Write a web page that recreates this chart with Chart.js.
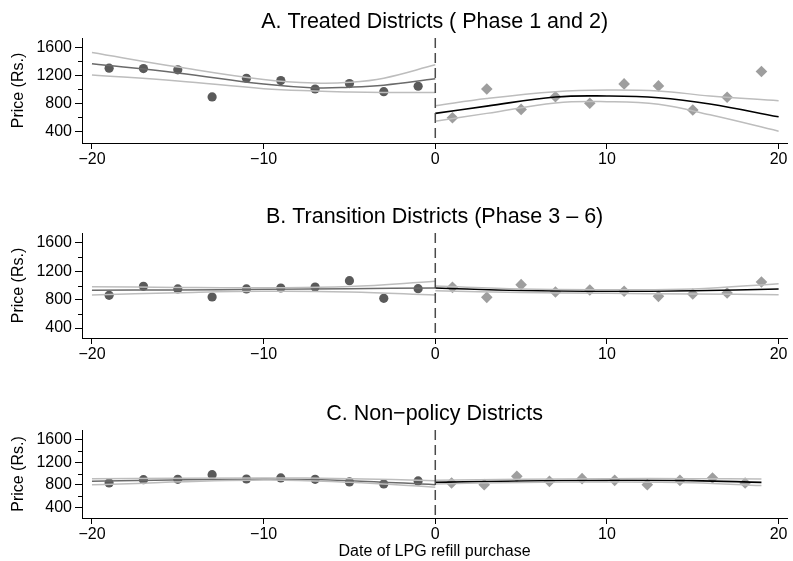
<!DOCTYPE html>
<html>
<head>
<meta charset="utf-8">
<script src="https://cdn.jsdelivr.net/npm/chart.js@4.4.1/dist/chart.umd.min.js"></script>
<style>
  body { margin: 0; background: #fff; }
  #wrap { position: relative; width: 793px; height: 561px; }
  canvas { position: absolute; left: 0; }
</style>
</head>
<body>
<div id="wrap">
  <canvas id="panelA" width="793" height="190" style="top:0px"></canvas>
  <canvas id="panelB" width="793" height="180" style="top:190px"></canvas>
  <canvas id="panelC" width="793" height="191" style="top:370px"></canvas>
</div>
<script>
// Días antes / después de la fecha de cambio
const leftX = [-19, -17, -15, -13, -11, -9, -7, -5, -3, -1];
const rightX = [1, 3, 5, 7, 9, 11, 13, 15, 17, 19];
const rightXC = [0.95, 2.85, 4.75, 6.65, 8.55, 10.45, 12.35, 14.25, 16.15, 18.05];

// Precios medios (Rs.)
const aLeft = [1303, 1298, 1279, 891, 1159, 1125, 1005, 1082, 967, 1044];
const aRight = [593, 1006, 713, 895, 800, 1078, 1049, 704, 886, 1255];
const bLeft = [861, 988, 951, 838, 951, 965, 979, 1068, 819, 955];
const bRight = [974, 833, 1012, 908, 937, 918, 847, 880, 894, 1050];
const cLeft = [835, 894, 900, 982, 906, 924, 900, 853, 818, 871];
const cRight = [835, 805, 953, 864, 912, 882, 805, 882, 924, 835];

// Curvas ajustadas e intervalos
const aFitLX = [-20, -15, -10, -7, -5, -3, 0];
const aFitL = [1365, 1235, 1075, 1020, 1030, 1060, 1150];
const aHiL = [1528, 1320, 1140, 1090, 1100, 1160, 1351];
const aLoL = [1207, 1120, 1010, 975, 962, 956, 955];
const aFitRX = [0, 3, 7, 10, 13, 16, 20];
const aFitR = [656, 760, 890, 905, 880, 790, 607];
const aHiR = [766, 870, 967, 991, 977, 905, 837];
const aLoR = [545, 656, 805, 823, 785, 635, 401];

const bFitLX = [-20, -15, -10, -5, 0];
const bFitL = [932, 938, 946, 955, 965];
const bHiL = [984, 972, 968, 985, 1059];
const bLoL = [866, 897, 918, 909, 866];
const bFitRX = [0, 5, 10, 15, 20];
const bFitR = [965, 930, 918, 925, 951];
const bHiR = [993, 950, 941, 951, 1026];
const bLoR = [927, 900, 889, 880, 871];

const cFitLX = [-20, -10, -5, 0];
const cFitL = [864, 906, 876, 805];
const cHiL = [912, 924, 912, 876];
const cLoL = [805, 888, 846, 758];
const cFitRX = [0, 5, 10, 15, 19];
const cFitR = [846, 870, 882, 876, 846];
const cHiR = [882, 900, 912, 910, 906];
const cLoR = [817, 845, 853, 840, 788];

const xTicks = [-20, -10, 0, 10, 20];
const yTicks = [400, 800, 1200, 1600];
const yMinor = [600, 1000, 1400];

const FONT = '"Liberation Sans", Arial, Helvetica, sans-serif';

function pts(xs, ys) {
  return xs.map((x, i) => ({ x: x, y: ys[i] }));
}

// título, línea de corte y marcas menores
const panelExtras = {
  id: "panelExtras",
  afterDatasetsDraw(chart, args, opts) {
    const { ctx, chartArea, scales } = chart;
    const x0 = scales.x.getPixelForValue(0);
    ctx.save();
    ctx.strokeStyle = "#4a4a4a";
    ctx.lineWidth = 1.5;
    ctx.setLineDash([10, 5]);
    ctx.beginPath();
    ctx.moveTo(x0, chartArea.top);
    ctx.lineTo(x0, chartArea.bottom);
    ctx.stroke();
    ctx.restore();
  },
  afterDraw(chart, args, opts) {
    const { ctx, chartArea, scales } = chart;
    ctx.save();
    ctx.strokeStyle = "#000";
    ctx.lineWidth = 1;
    yMinor.forEach((v) => {
      const y = Math.round(scales.y.getPixelForValue(v)) + 0.5;
      ctx.beginPath();
      ctx.moveTo(chartArea.left - 4, y);
      ctx.lineTo(chartArea.left, y);
      ctx.stroke();
    });
    ctx.font = "21.5px " + FONT;
    ctx.fillStyle = "#000";
    ctx.textAlign = "center";
    ctx.textBaseline = "alphabetic";
    ctx.fillText(opts.text, (chartArea.left + chartArea.right) / 2, chartArea.top - 10);
    ctx.restore();
  }
};

function curve(data, color, width) {
  return {
    type: "line",
    data: data,
    borderColor: color,
    borderWidth: width,
    pointRadius: 0,
    fill: false,
    tension: 0.4,
    order: 1
  };
}

function makePanel(id, p) {
  const ctx = document.getElementById(id).getContext("2d");
  return new Chart(ctx, {
    type: "scatter",
    data: {
      datasets: [
        curve(pts(p.fitLX, p.hiL), "#bdbdbd", 1.5),
        curve(pts(p.fitLX, p.loL), "#bdbdbd", 1.5),
        curve(pts(p.fitLX, p.fitL), "#6a6a6a", 1.5),
        curve(pts(p.fitRX, p.hiR), "#bdbdbd", 1.5),
        curve(pts(p.fitRX, p.loR), "#bdbdbd", 1.5),
        curve(pts(p.fitRX, p.fitR), "#000000", 1.6),
        {
          data: pts(leftX, p.left),
          backgroundColor: "#5a5a5a",
          borderWidth: 0,
          pointStyle: "circle",
          pointRadius: 4.6,
          order: 2
        },
        {
          data: pts(p.rightX, p.right),
          backgroundColor: "#9e9e9e",
          borderWidth: 0,
          pointStyle: "rectRot",
          pointRadius: 5.8,
          order: 2
        }
      ]
    },
    options: {
      responsive: false,
      animation: false,
      layout: { padding: { top: p.top, left: 0, right: 0, bottom: 0 } },
      plugins: {
        legend: { display: false },
        tooltip: { enabled: false },
        panelExtras: { text: p.title }
      },
      scales: {
        x: {
          type: "linear",
          min: -20.58,
          max: 20.5,
          afterBuildTicks: (s) => { s.ticks = xTicks.map((v) => ({ value: v })); },
          afterFit: (s) => { s.height = p.xHeight; },
          border: { display: true, color: "#000", width: 1 },
          grid: { drawOnChartArea: false, tickLength: 6, tickColor: "#000" },
          ticks: {
            color: "#000",
            font: { family: FONT, size: 16 },
            padding: 1,
            maxRotation: 0,
            callback: (v) => String(v).replace("-", "\u2212")
          },
          title: {
            display: !!p.xTitle,
            text: p.xTitle || "",
            color: "#000",
            font: { family: FONT, size: 16 },
            padding: { top: 0, bottom: 0 }
          }
        },
        y: {
          min: p.yMin,
          max: p.yMax,
          afterBuildTicks: (s) => { s.ticks = yTicks.map((v) => ({ value: v })); },
          afterFit: (s) => { s.width = 82; },
          border: { display: true, color: "#000", width: 1 },
          grid: { drawOnChartArea: false, tickLength: 7, tickColor: "#000" },
          ticks: {
            color: "#000",
            font: { family: FONT, size: 16 },
            padding: 3,
            callback: (v) => String(v)
          },
          title: {
            display: true,
            text: "Price (Rs.)",
            color: "#000",
            font: { family: FONT, size: 16 },
            padding: { top: 9, bottom: 0 }
          }
        }
      }
    },
    plugins: [panelExtras]
  });
}

window.addEventListener("load", () => {
  makePanel("panelA", {
    title: "A. Treated Districts ( Phase 1 and 2)",
    top: 38, xHeight: 47, yMin: 232, yMax: 1735,
    left: aLeft, right: aRight, rightX: rightX,
    fitLX: aFitLX, fitL: aFitL, hiL: aHiL, loL: aLoL,
    fitRX: aFitRX, fitR: aFitR, hiR: aHiR, loR: aLoR
  });
  makePanel("panelB", {
    title: "B. Transition Districts (Phase 3 \u2013 6)",
    top: 43, xHeight: 32, yMin: 259, yMax: 1741,
    left: bLeft, right: bRight, rightX: rightX,
    fitLX: bFitLX, fitL: bFitL, hiL: bHiL, loL: bLoL,
    fitRX: bFitRX, fitR: bFitR, hiR: bHiR, loR: bLoR
  });
  makePanel("panelC", {
    title: "C. Non\u2212policy Districts",
    top: 60, xHeight: 43, yMin: 212, yMax: 1777,
    xTitle: "Date of LPG refill purchase",
    left: cLeft, right: cRight, rightX: rightXC,
    fitLX: cFitLX, fitL: cFitL, hiL: cHiL, loL: cLoL,
    fitRX: cFitRX, fitR: cFitR, hiR: cHiR, loR: cLoR
  });
});
</script>
</body>
</html>
